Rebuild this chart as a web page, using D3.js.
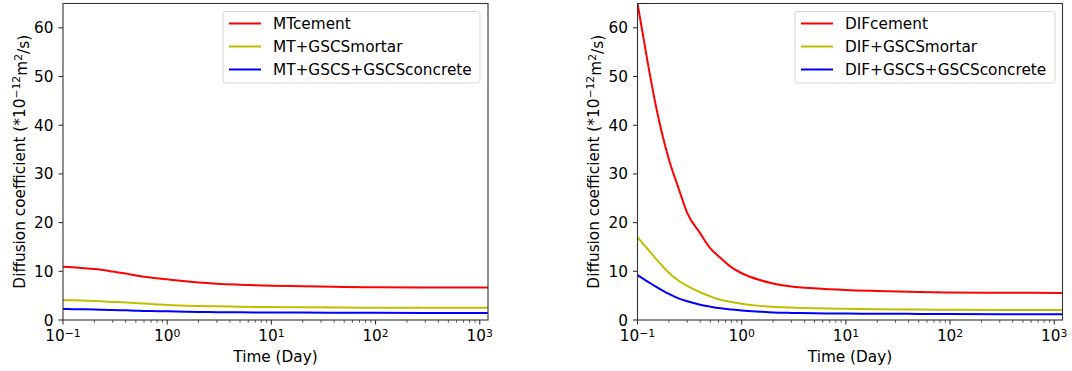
<!DOCTYPE html>
<html>
<head>
<meta charset="utf-8">
<script src="https://cdn.jsdelivr.net/npm/d3@7"></script>
<style>
  body { margin: 0; background: #fff; }
  text { font-family: "DejaVu Sans", sans-serif; fill: #000; }
</style>
</head>
<body>
<svg id="chart" width="1072" height="371"></svg>
<script>
// time points (days)
const time = [0.1, 0.125, 0.15, 0.2, 0.25, 0.3, 0.4, 0.5, 0.6, 0.8, 1, 1.5, 2, 3, 5, 10, 20, 50, 100, 300, 1200];

// left panel (MT)
const mtCement   = [10.95, 10.85, 10.7, 10.45, 10.2, 9.95, 9.55, 9.15, 8.9, 8.58, 8.35, 7.95, 7.7, 7.45, 7.25, 7.05, 6.95, 6.8, 6.72, 6.67, 6.65];
const mtMortar   = [4.1, 4.05, 4.0, 3.9, 3.8, 3.72, 3.6, 3.48, 3.38, 3.2, 3.08, 2.95, 2.87, 2.8, 2.72, 2.66, 2.6, 2.55, 2.53, 2.5, 2.5];
const mtConcrete = [2.26, 2.23, 2.2, 2.15, 2.1, 2.05, 1.98, 1.92, 1.87, 1.82, 1.78, 1.7, 1.65, 1.61, 1.58, 1.55, 1.52, 1.49, 1.47, 1.45, 1.44];

// right panel (DIF)
const difCement   = [65, 53, 44, 33, 26.8, 22.0, 17.8, 14.7, 13.1, 10.8, 9.6, 8.2, 7.5, 6.9, 6.5, 6.15, 5.95, 5.75, 5.65, 5.6, 5.55];
const difMortar   = [17.0, 14.6, 12.6, 9.7, 8.0, 7.0, 5.7, 4.85, 4.25, 3.7, 3.35, 2.9, 2.7, 2.55, 2.4, 2.3, 2.2, 2.15, 2.1, 2.05, 2.05];
const difConcrete = [9.2, 7.9, 6.85, 5.35, 4.4, 3.85, 3.15, 2.75, 2.45, 2.15, 1.95, 1.7, 1.55, 1.45, 1.38, 1.32, 1.28, 1.25, 1.22, 1.2, 1.2];

const yTicks = [0, 10, 20, 30, 40, 50, 60];
const xTicks = [0.1, 1, 10, 100, 1000];
const xTickExp = ["\u22121", "0", "1", "2", "3"];
const colors = ["#ff0000", "#bfbf00", "#0000ff"];

const panels = [
  { left: 63, right: 488, names: ["MTcement", "MT+GSCSmortar", "MT+GSCS+GSCSconcrete"],
    series: [mtCement, mtMortar, mtConcrete], legendX: 223, legendW: 257 },
  { left: 637.5, right: 1062.5, names: ["DIFcement", "DIF+GSCSmortar", "DIF+GSCS+GSCSconcrete"],
    series: [difCement, difMortar, difConcrete], legendX: 795, legendW: 260 }
];

const plotTop = 3.5, plotBottom = 320;
const fs = "15.3px", fsSup = "10.8px";
const svg = d3.select("#chart");

panels.forEach(p => {
  const x = d3.scaleLog().domain([0.1, 1200]).range([p.left, p.right]);
  const y = d3.scaleLinear().domain([0, 65]).range([plotBottom, plotTop]);
  const g = svg.append("g");

  const clipId = "clip" + Math.round(p.left);
  g.append("clipPath").attr("id", clipId)
    .append("rect").attr("x", p.left).attr("y", plotTop)
    .attr("width", p.right - p.left).attr("height", plotBottom - plotTop);

  // lines
  const line = d3.line().x((d, i) => x(time[i])).y(d => y(d)).curve(d3.curveMonotoneX);
  p.series.forEach((s, i) => {
    g.append("path")
      .attr("d", line(s))
      .attr("fill", "none")
      .attr("stroke", colors[i])
      .attr("stroke-width", 2)
      .attr("clip-path", `url(#${clipId})`);
  });

  // frame
  g.append("rect")
    .attr("x", p.left).attr("y", plotTop)
    .attr("width", p.right - p.left).attr("height", plotBottom - plotTop)
    .attr("fill", "none").attr("stroke", "#333").attr("stroke-width", 1.1);

  // y axis
  yTicks.forEach(v => {
    g.append("line").attr("x1", p.left - 4.5).attr("x2", p.left)
      .attr("y1", y(v)).attr("y2", y(v)).attr("stroke", "#333").attr("stroke-width", 1.1);
    g.append("text").attr("x", p.left - 9.5).attr("y", y(v)).attr("dy", "0.36em")
      .attr("text-anchor", "end").style("font-size", fs).text(v);
  });

  // x axis minor ticks
  const minor = [];
  [0.1, 1, 10, 100, 1000].forEach(dec => {
    for (let k = 2; k <= 9; k++) if (dec * k <= 1200) minor.push(dec * k);
  });
  minor.forEach(v => {
    g.append("line").attr("x1", x(v)).attr("x2", x(v))
      .attr("y1", plotBottom).attr("y2", plotBottom + 2.8).attr("stroke", "#333").attr("stroke-width", 0.8);
  });
  xTicks.forEach((v, i) => {
    g.append("line").attr("x1", x(v)).attr("x2", x(v))
      .attr("y1", plotBottom).attr("y2", plotBottom + 4.5).attr("stroke", "#333").attr("stroke-width", 1.1);
    const t = g.append("text").attr("x", x(v)).attr("y", plotBottom + 21)
      .attr("text-anchor", "middle").style("font-size", fs);
    t.append("tspan").text("10");
    t.append("tspan").attr("dy", "-0.4em").style("font-size", fsSup).text(xTickExp[i]);
  });

  // axis labels
  g.append("text").attr("x", (p.left + p.right) / 2).attr("y", 362)
    .attr("text-anchor", "middle").style("font-size", fs).text("Time (Day)");

  const yl = g.append("text")
    .attr("transform", `translate(${p.left - 38.5},${(plotTop + plotBottom) / 2}) rotate(-90)`)
    .attr("text-anchor", "middle").style("font-size", fs);
  yl.append("tspan").text("Diffusion coefficient (*10");
  yl.append("tspan").attr("dy", "-0.45em").style("font-size", fsSup).text("\u221212");
  yl.append("tspan").attr("dy", "0.45em").text("m");
  yl.append("tspan").attr("dy", "-0.45em").style("font-size", fsSup).text("2");
  yl.append("tspan").attr("dy", "0.45em").text("/s)");

  // legend
  g.append("rect").attr("x", p.legendX).attr("y", 11.5)
    .attr("width", p.legendW).attr("height", 71.5).attr("rx", 2.5)
    .attr("fill", "#fff").attr("fill-opacity", 0.8)
    .attr("stroke", "#d5d5d5").attr("stroke-width", 1);
  p.names.forEach((n, i) => {
    const ly = 23.5 + i * 23;
    g.append("line").attr("x1", p.legendX + 6).attr("x2", p.legendX + 38)
      .attr("y1", ly).attr("y2", ly).attr("stroke", colors[i]).attr("stroke-width", 2);
    g.append("text").attr("x", p.legendX + 50).attr("y", ly).attr("dy", "0.36em")
      .style("font-size", fs).text(n);
  });
});
</script>
</body>
</html>
